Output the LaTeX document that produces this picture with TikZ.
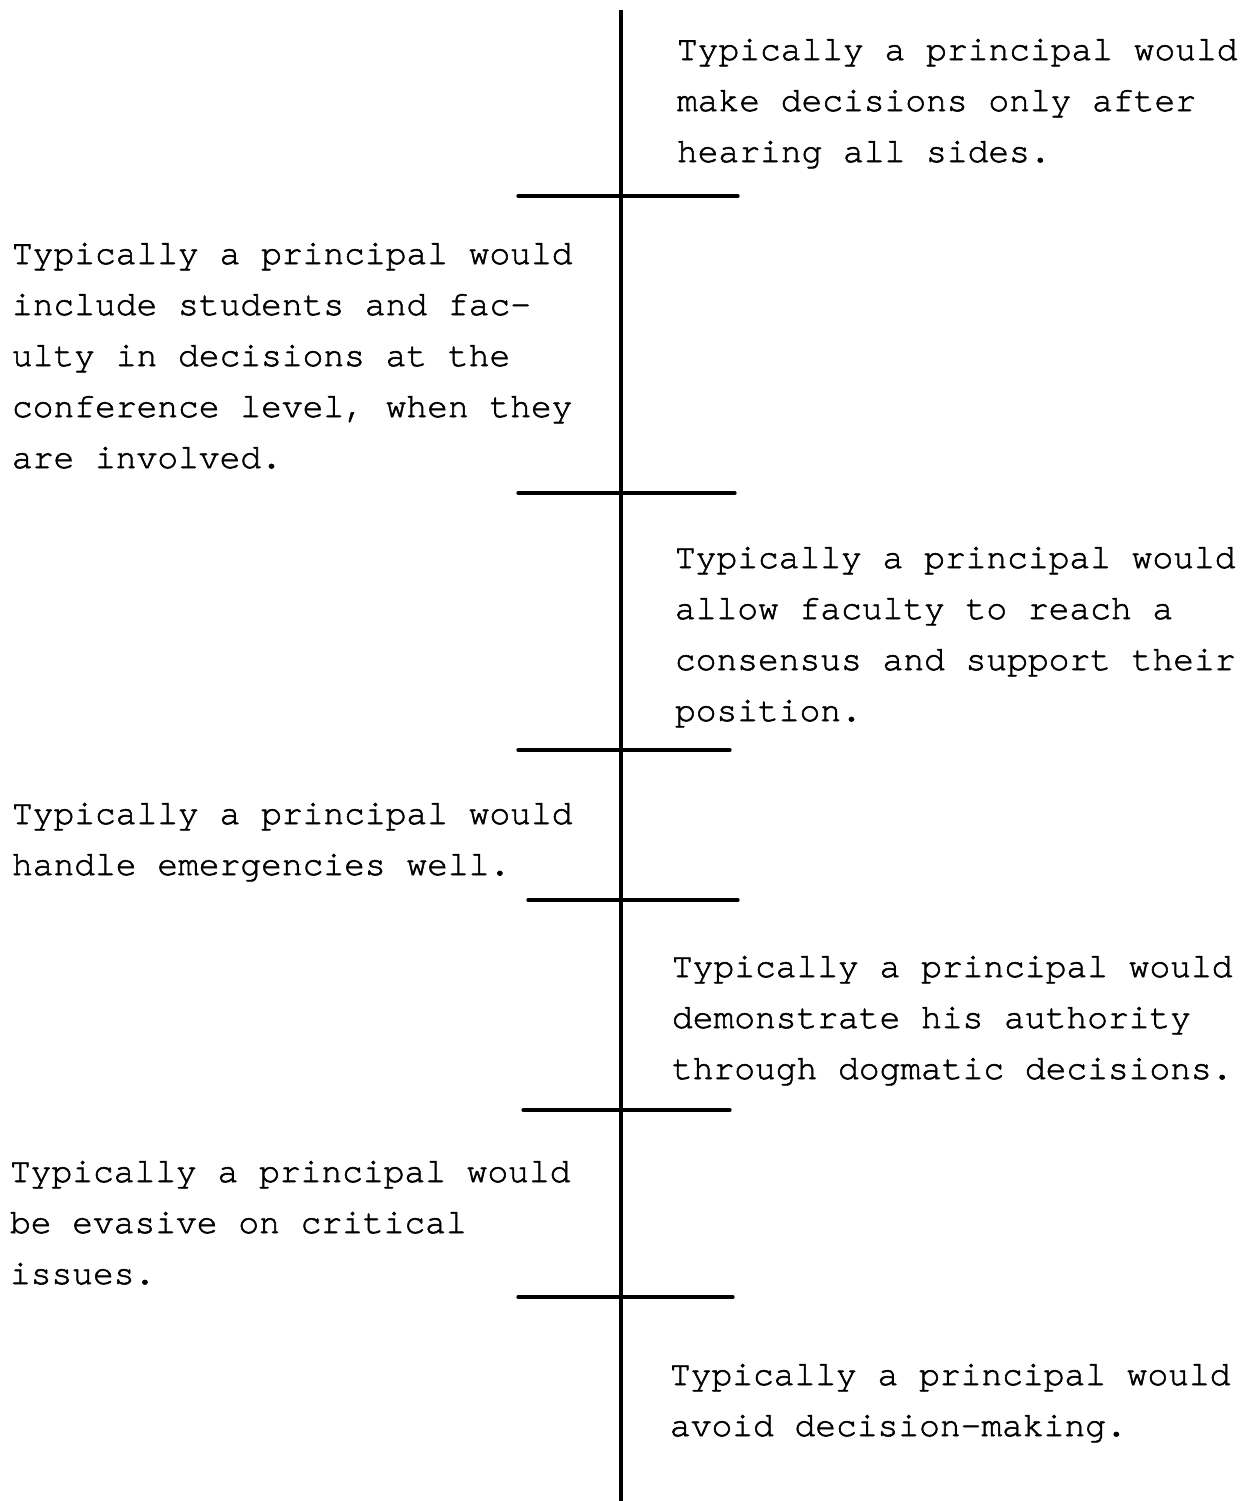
\documentclass[tikz,border=0pt]{standalone}
\usepackage{fontspec}
\newfontfamily\typewriter[FakeBold=1.6]{TeX Gyre Cursor}
\tikzset{
  rung/.style={line width=1.6bp, line cap=round},
  spine/.style={line width=1.6bp},
  stmt/.style={anchor=base west, inner sep=0pt, outer sep=0pt,
    font=\typewriter\fontsize{17.3bp}{25.5bp}\selectfont}
}
\newcommand{\lines}[1]{\begin{tabular}[t]{@{}l@{}}#1\end{tabular}}
\begin{document}
\begin{tikzpicture}[x=0.5bp, y=-0.5bp]
  \useasboundingbox (0,0) rectangle (1243,1501);

  % central axis
  \coordinate (top) at (621,10);
  \coordinate (bottom) at (621,1501);
  \draw[spine] (top) -- (bottom);

  % scale marks across the axis
  \coordinate (r1a) at (518,196);  \coordinate (r1b) at (738,196);
  \coordinate (r2a) at (518,493);  \coordinate (r2b) at (735,493);
  \coordinate (r3a) at (518,750);  \coordinate (r3b) at (730,750);
  \coordinate (r4a) at (528,900);  \coordinate (r4b) at (738,900);
  \coordinate (r5a) at (523,1110); \coordinate (r5b) at (730,1110);
  \coordinate (r6a) at (518,1297); \coordinate (r6b) at (733,1297);
  \draw[rung] (r1a) -- (r1b);
  \draw[rung] (r2a) -- (r2b);
  \draw[rung] (r3a) -- (r3b);
  \draw[rung] (r4a) -- (r4b);
  \draw[rung] (r5a) -- (r5b);
  \draw[rung] (r6a) -- (r6b);

  % statements, alternating right and left of the axis
  \node[stmt] (s1) at (677,60) {\lines{Typically a principal would\\make decisions only after\\hearing all sides.}};
  \node[stmt] (s2) at (12,264) {\lines{Typically a principal would\\include students and fac-\\ulty in decisions at the\\conference level, when they\\are involved.}};
  \node[stmt] (s3) at (675,568) {\lines{Typically a principal would\\allow faculty to reach a\\consensus and support their\\position.}};
  \node[stmt] (s4) at (12,824) {\lines{Typically a principal would\\handle emergencies well.}};
  \node[stmt] (s5) at (672,977) {\lines{Typically a principal would\\demonstrate his authority\\through dogmatic decisions.}};
  \node[stmt] (s6) at (10,1182) {\lines{Typically a principal would\\be evasive on critical\\issues.}};
  \node[stmt] (s7) at (670,1385) {\lines{Typically a principal would\\avoid decision-making.}};
\end{tikzpicture}
\end{document}
